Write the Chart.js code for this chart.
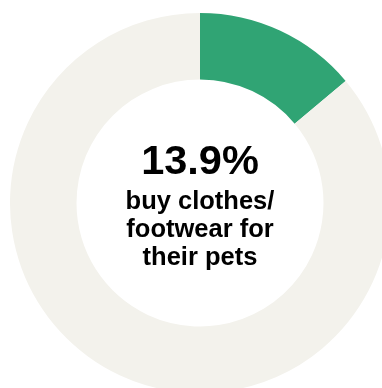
<!DOCTYPE html>
<html>
<head>
<meta charset="utf-8">
<script src="https://cdn.jsdelivr.net/npm/chart.js@4/dist/chart.umd.min.js"></script>
<style>
  html, body { margin: 0; padding: 0; background: #ffffff; overflow: hidden; width: 382px; height: 388px; }
  #wrap { position: absolute; left: 10px; top: 13px; width: 380px; height: 380px; }
  .txt { position: absolute; left: 0; width: 400px; text-align: center; color: #000; font-family: "Liberation Sans", Arial, sans-serif; font-weight: bold; }
  #big { top: 139px; font-size: 41.5px; line-height: 41.5px; }
  #small { top: 186px; font-size: 25.5px; line-height: 28px; }
</style>
</head>
<body>
<div id="wrap"><canvas id="c" width="380" height="380"></canvas></div>
<div class="txt" id="big"></div>
<div class="txt" id="small"></div>
<script>
const categories = ["Buy clothes/footwear for their pets", "Do not"];
const values = [13.9, 86.1];
const colors = ["#30a474", "#f3f2ec"];
const headline = "13.9%";
const captionLines = ["buy clothes/", "footwear for", "their pets"];

document.getElementById('big').textContent = headline;
document.getElementById('small').innerHTML = captionLines.join('<br>');

new Chart(document.getElementById('c'), {
  type: 'doughnut',
  data: {
    labels: categories,
    datasets: [{
      data: values,
      backgroundColor: colors,
      borderWidth: 0,
      hoverOffset: 0
    }]
  },
  options: {
    responsive: false,
    animation: false,
    cutout: '65%',
    layout: { padding: 0 },
    plugins: { legend: { display: false }, tooltip: { enabled: false } }
  }
});
</script>
</body>
</html>
